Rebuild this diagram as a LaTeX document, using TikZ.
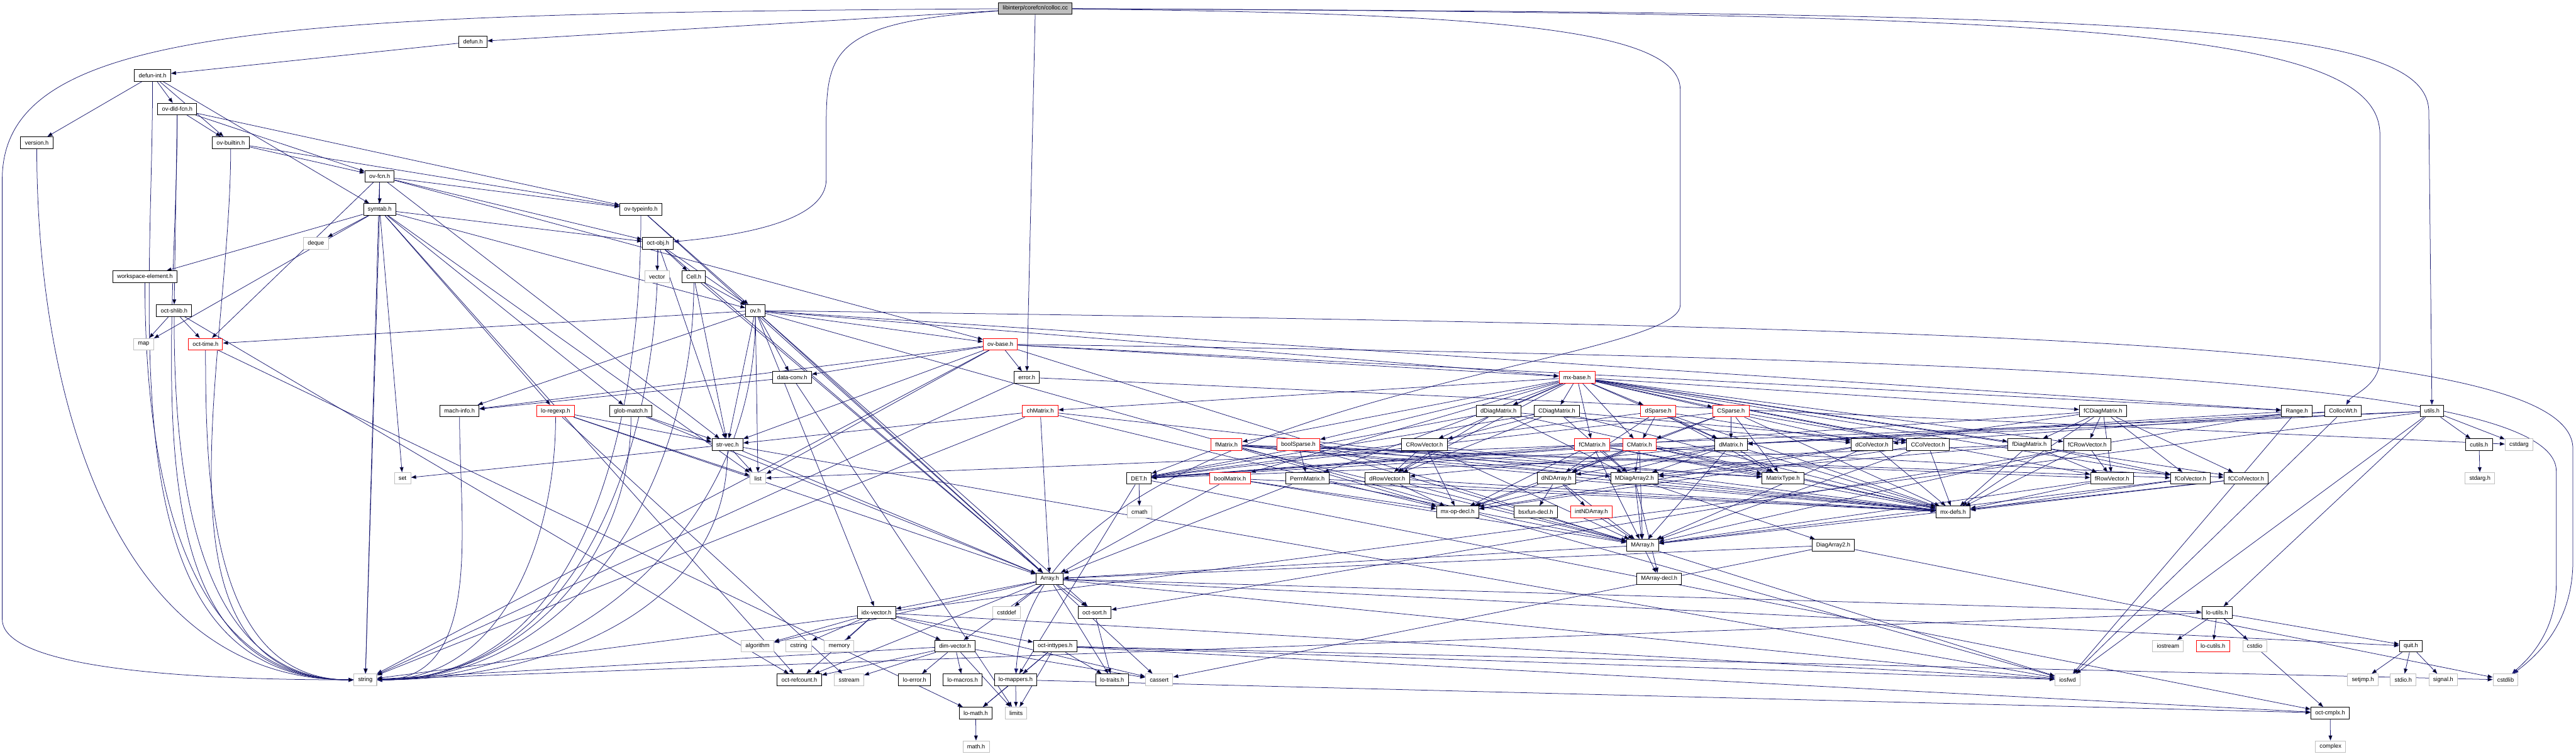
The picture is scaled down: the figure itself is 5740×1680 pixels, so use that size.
\documentclass[tikz,border=0pt]{standalone}
\usepackage{fontspec}
\setmainfont{Liberation Sans}
\usepackage{tikz}
\usetikzlibrary{arrows.meta,backgrounds}
\definecolor{depblue}{HTML}{191970}
\definecolor{sysgray}{HTML}{BFBFBF}
\tikzset{
  incbox/.style={draw=black,fill=white,line width=0.4pt,inner xsep=2.7pt,inner ysep=0pt,
    minimum height=0.26cm,font=\fontsize{3.7}{4.4}\selectfont},
  redinc/.style={incbox,draw=red},
  sysinc/.style={incbox,draw=sysgray},
  rootinc/.style={incbox,fill=sysgray},
  dep/.style={draw=depblue,line width=0.3pt,-{Triangle[length=3.2pt,width=2.4pt]}},
  fromleft/.style={out=-90,in=180},
  fromright/.style={out=-90,in=0}
}
\begin{document}
\begin{tikzpicture}[x=0.01cm,y=-0.01cm]
      \useasboundingbox (0,0) rectangle (5740,1680);
      \node[rootinc] (colloc) at (2307,19) {libinterp/corefcn/colloc.cc};
      \node[incbox] (defun) at (1054,93) {defun.h};
      \node[incbox] (defunint) at (340,168) {defun-int.h};
      \node[incbox] (ovdld) at (395,243) {ov-dld-fcn.h};
      \node[incbox] (version) at (82,318) {version.h};
      \node[incbox] (ovbuiltin) at (514,318) {ov-builtin.h};
      \node[incbox] (ovfcn) at (846,393) {ov-fcn.h};
      \node[incbox] (symtab) at (846,467) {symtab.h};
      \node[incbox] (ovtypeinfo) at (1428,467) {ov-typeinfo.h};
      \node[sysinc] (deque) at (704,542) {deque};
      \node[incbox] (octobj) at (1466,542) {oct-obj.h};
      \node[incbox] (wselem) at (323,617) {workspace-element.h};
      \node[sysinc] (vector) at (1464,617) {vector};
      \node[incbox] (cell) at (1546,617) {Cell.h};
      \node[incbox] (octshlib) at (388,692) {oct-shlib.h};
      \node[incbox] (ovh) at (1683,692) {ov.h};
      \node[sysinc] (map) at (320,767) {map};
      \node[redinc] (octtime) at (458,767) {oct-time.h};
      \node[redinc] (ovbase) at (2229,767) {ov-base.h};
      \node[incbox] (dataconv) at (1765,841) {data-conv.h};
      \node[incbox] (error) at (2288,841) {error.h};
      \node[redinc] (mxbase) at (3514,841) {mx-base.h};
      \node[incbox] (machinfo) at (1024,916) {mach-info.h};
      \node[redinc] (loregexp) at (1238,916) {lo-regexp.h};
      \node[incbox] (globmatch) at (1406,916) {glob-match.h};
      \node[redinc] (chmatrix) at (2318,916) {chMatrix.h};
      \node[incbox] (ddiagmatrix) at (3339,916) {dDiagMatrix.h};
      \node[incbox] (cdiagmatrix) at (3469,916) {CDiagMatrix.h};
      \node[redinc] (dsparse) at (3695,916) {dSparse.h};
      \node[redinc] (csparse) at (3857,916) {CSparse.h};
      \node[incbox] (fcdiagmatrix) at (4686,916) {fCDiagMatrix.h};
      \node[incbox] (range) at (5118,916) {Range.h};
      \node[incbox] (collocwt) at (5221,916) {CollocWt.h};
      \node[incbox] (utils) at (5419,916) {utils.h};
      \node[incbox] (strvec) at (1621,991) {str-vec.h};
      \node[redinc] (fmatrix) at (2733,991) {fMatrix.h};
      \node[redinc] (boolsparse) at (2893,991) {boolSparse.h};
      \node[incbox] (crowvector) at (3174,991) {CRowVector.h};
      \node[redinc] (fcmatrix) at (3548,991) {fCMatrix.h};
      \node[redinc] (cmatrix) at (3653,991) {CMatrix.h};
      \node[incbox] (dmatrix) at (3857,991) {dMatrix.h};
      \node[incbox] (dcolvector) at (4171,991) {dColVector.h};
      \node[incbox] (ccolvector) at (4296,991) {CColVector.h};
      \node[incbox] (fdiagmatrix) at (4522,991) {fDiagMatrix.h};
      \node[incbox] (fcrowvector) at (4651,991) {fCRowVector.h};
      \node[incbox] (cutils) at (5524,991) {cutils.h};
      \node[sysinc] (cstdarg) at (5613,991) {cstdarg};
      \node[sysinc] (set) at (897,1066) {set};
      \node[sysinc] (list) at (1689,1066) {list};
      \node[incbox] (det) at (2538,1066) {DET.h};
      \node[redinc] (boolmatrix) at (2741,1066) {boolMatrix.h};
      \node[incbox] (permmatrix) at (2913,1066) {PermMatrix.h};
      \node[incbox] (drowvector) at (3091,1066) {dRowVector.h};
      \node[incbox] (dndarray) at (3468,1066) {dNDArray.h};
      \node[incbox] (mdiagarray) at (3642,1066) {MDiagArray2.h};
      \node[incbox] (matrixtype) at (3973,1066) {MatrixType.h};
      \node[incbox] (frowvector) at (4706,1066) {fRowVector.h};
      \node[incbox] (fcolvector) at (4881,1066) {fColVector.h};
      \node[incbox] (fccolvector) at (5005,1066) {fCColVector.h};
      \node[sysinc] (stdargh) at (5526,1066) {stdarg.h};
      \node[sysinc] (cmath) at (2539,1141) {cmath};
      \node[incbox] (mxopdecl) at (3248,1141) {mx-op-decl.h};
      \node[incbox] (bsxfundecl) at (3422,1141) {bsxfun-decl.h};
      \node[redinc] (intndarray) at (3546,1141) {intNDArray.h};
      \node[incbox] (mxdefs) at (4352,1141) {mx-defs.h};
      \node[incbox] (marray) at (3660,1215) {MArray.h};
      \node[incbox] (diagarray) at (4085,1215) {DiagArray2.h};
      \node[incbox] (array) at (2339,1290) {Array.h};
      \node[incbox] (marraydecl) at (3697,1290) {MArray-decl.h};
      \node[incbox] (idxvector) at (1953,1365) {idx-vector.h};
      \node[sysinc] (cstddef) at (2243,1365) {cstddef};
      \node[incbox] (octsort) at (2439,1365) {oct-sort.h};
      \node[incbox] (loutils) at (4940,1365) {lo-utils.h};
      \node[sysinc] (algorithm) at (1688,1440) {algorithm};
      \node[sysinc] (cstring) at (1780,1440) {cstring};
      \node[sysinc] (memory) at (1870,1440) {memory};
      \node[incbox] (dimvector) at (2128,1440) {dim-vector.h};
      \node[incbox] (octinttypes) at (2351,1440) {oct-inttypes.h};
      \node[sysinc] (iostream) at (4831,1440) {iostream};
      \node[redinc] (locutils) at (4931,1440) {lo-cutils.h};
      \node[sysinc] (cstdio) at (5024,1440) {cstdio};
      \node[incbox] (quit) at (5372,1440) {quit.h};
      \node[sysinc] (string) at (814,1515) {string};
      \node[incbox] (octrefcount) at (1781,1515) {oct-refcount.h};
      \node[sysinc] (sstream) at (1892,1515) {sstream};
      \node[incbox] (loerror) at (2038,1515) {lo-error.h};
      \node[incbox] (lomacros) at (2145,1515) {lo-macros.h};
      \node[incbox] (lomappers) at (2263,1515) {lo-mappers.h};
      \node[incbox] (lotraits) at (2478,1515) {lo-traits.h};
      \node[sysinc] (cassert) at (2583,1515) {cassert};
      \node[sysinc] (iosfwd) at (4607,1515) {iosfwd};
      \node[sysinc] (setjmp) at (5265,1515) {setjmp.h};
      \node[sysinc] (stdioh) at (5355,1515) {stdio.h};
      \node[sysinc] (signal) at (5444,1515) {signal.h};
      \node[sysinc] (cstdlib) at (5583,1515) {cstdlib};
      \node[incbox] (lomath) at (2174,1589) {lo-math.h};
      \node[sysinc] (limits) at (2264,1589) {limits};
      \node[incbox] (octcmplx) at (5192,1589) {oct-cmplx.h};
      \node[sysinc] (mathh) at (2175,1664) {math.h};
      \node[sysinc] (complex) at (5193,1664) {complex};
      \begin{pgfonlayer}{background}
      \draw[dep] (colloc) edge (defun) edge (error);
      \draw[dep] (colloc) .. controls (600,30) and (5,60) .. (5,400) -- (5,1380) .. controls (5,1500) and (500,1515) .. (string);
      \draw[dep] (colloc) .. controls (1841,50) and (1841,120) .. (1841,300) -- (1841,400) .. controls (1841,480) and (1700,520) .. (octobj);
      \draw[dep] (colloc) .. controls (3300,30) and (3744,60) .. (3744,200) -- (3744,680) .. controls (3744,820) and (2300,880) .. (lomappers);
      \draw[dep] (colloc) .. controls (4600,30) and (5303,60) .. (5303,300) -- (5303,800) .. controls (5303,860) and (5240,880) .. (collocwt);
      \draw[dep] (colloc) .. controls (4800,30) and (5412,50) .. (5412,250) -- (utils);
      \draw[dep] (defun) edge (defunint);
      \draw[dep] (defunint) edge (version) edge[fromleft] (string) edge (ovdld) edge (ovbuiltin) edge (symtab);
      \draw[dep] (ovdld) edge[fromleft] (string) edge (octshlib) edge (ovfcn) edge (ovbuiltin) edge (ovtypeinfo);
      \draw[dep] (ovbuiltin) edge[fromleft] (string) edge (ovfcn) edge (ovtypeinfo);
      \draw[dep] (version) edge[fromleft] (string);
      \draw[dep] (ovfcn) edge (string) edge (symtab) edge (ovtypeinfo) edge (octtime) edge (strvec) edge (octobj) edge (ovbase);
      \draw[dep] (symtab) edge (deque) edge (list) edge (map) edge (set) edge (string) edge (globmatch) edge (loregexp) edge (wselem) edge (ovh) edge (octobj) edge (octrefcount);
      \draw[dep] (ovtypeinfo) edge[fromright] (string) edge (array) edge (ovh);
      \draw[dep] (octobj) edge[fromright] (string) edge (array) edge (strvec) edge (ovh) edge (cell) edge (vector);
      \draw[dep] (wselem) edge[fromleft] (string);
      \draw[dep] (cell) edge (ovh) edge (strvec) edge (array) edge[fromright] (string);
      \draw[dep] (octshlib) edge[fromleft] (string) edge (map) edge (octtime) edge (octrefcount);
      \draw[dep] (ovh) edge (ovbase) edge (dataconv) edge (strvec) edge (list) edge[fromright] (string) edge (octtime) edge (machinfo) edge (mxbase) edge (range) edge (idxvector) edge (array) edge (iosfwd) edge (octsort);
      \draw[dep] (ovh) .. controls (4500,730) and (5733,760) .. (5733,1000) -- (5733,1250) .. controls (5733,1400) and (5640,1470) .. (cstdlib);
      \draw[dep] (octtime) edge[fromleft] (string) edge (lomath);
      \draw[dep] (ovbase) edge (dataconv) edge (error) edge (strvec) edge (list) edge (string) edge (mxbase) edge (range) edge (iosfwd) edge (machinfo);
      \draw[dep] (ovbase) .. controls (4600,800) and (5696,850) .. (5696,1050) -- (5696,1300) .. controls (5696,1420) and (5620,1480) .. (cstdlib);
      \draw[dep] (dataconv) edge (machinfo) edge (limits);
      \draw[dep] (error) edge (string) edge (cstdarg);
      \draw[dep] (mxbase) edge (chmatrix) edge (boolmatrix) edge (boolsparse) edge (fmatrix) edge (permmatrix) edge (drowvector) edge (crowvector) edge (ddiagmatrix) edge (cdiagmatrix) edge (fcmatrix) edge (cmatrix) edge (dsparse) edge (csparse) edge (dmatrix) edge (dcolvector) edge (ccolvector) edge (fcdiagmatrix) edge (fdiagmatrix) edge (fcrowvector) edge (frowvector) edge (fcolvector) edge (fccolvector);
      \draw[dep] (machinfo) edge[fromright] (string);
      \draw[dep] (loregexp) edge (list) edge (sstream) edge[fromright] (string) edge (array) edge (strvec);
      \draw[dep] (globmatch) edge[fromright] (string) edge (array) edge (strvec);
      \draw[dep] (chmatrix) edge (string) edge (strvec) edge (array) edge (mxdefs) edge (mxopdecl);
      \draw[dep] (ddiagmatrix) edge (mdiagarray) edge (drowvector) edge (dcolvector) edge (det) edge (mxdefs);
      \draw[dep] (cdiagmatrix) edge (crowvector) edge (drowvector) edge (mdiagarray) edge (ccolvector) edge (det) edge (mxdefs);
      \draw[dep] (dsparse) edge (dmatrix) edge (cmatrix) edge (dndarray) edge (matrixtype) edge (det) edge (dcolvector) edge (mxdefs);
      \draw[dep] (csparse) edge (dmatrix) edge (cmatrix) edge (matrixtype) edge (ccolvector) edge (det) edge (mxdefs) edge (dndarray);
      \draw[dep] (fcdiagmatrix) edge (fcrowvector) edge (frowvector) edge (fccolvector) edge (fcolvector) edge (fdiagmatrix) edge (mdiagarray) edge (det) edge (mxdefs);
      \draw[dep] (range) edge (dmatrix) edge (octsort) edge (iosfwd);
      \draw[dep] (collocwt) edge (dmatrix) edge (dcolvector) edge (iosfwd);
      \draw[dep] (utils) edge (cutils) edge (cstdarg) edge (string) edge (list) edge (iosfwd) edge (loutils) edge (dmatrix);
      \draw[dep] (strvec) edge[fromright] (string) edge (list) edge (array) edge (iosfwd) edge (set);
      \draw[dep] (fmatrix) edge (det) edge (marray) edge (mdiagarray) edge (matrixtype) edge (mxdefs) edge (mxopdecl) edge (fcolvector) edge (frowvector);
      \draw[dep] (boolsparse) edge (permmatrix) edge (marray) edge (mxdefs) edge (matrixtype);
      \draw[dep] (crowvector) edge (drowvector) edge (marray) edge (mxdefs) edge (mxopdecl);
      \draw[dep] (fcmatrix) edge (mdiagarray) edge (matrixtype) edge (det) edge (marray) edge (mxdefs) edge (mxopdecl) edge (fccolvector);
      \draw[dep] (cmatrix) edge (mdiagarray) edge (matrixtype) edge (det) edge (marray) edge (mxdefs) edge (mxopdecl) edge (dndarray);
      \draw[dep] (dmatrix) edge (matrixtype) edge (dndarray) edge (mdiagarray) edge (det) edge (marray) edge (mxdefs) edge (mxopdecl) edge (drowvector);
      \draw[dep] (dcolvector) edge (marray) edge (mxdefs) edge (mxopdecl);
      \draw[dep] (ccolvector) edge (marray) edge (mxdefs) edge (mxopdecl);
      \draw[dep] (fdiagmatrix) edge (mdiagarray) edge (frowvector) edge (fcolvector) edge (det) edge (mxdefs);
      \draw[dep] (fcrowvector) edge (frowvector) edge (marray) edge (mxdefs);
      \draw[dep] (cutils) edge (stdargh);
      \draw[dep] (det) edge (cmath) edge (lomappers) edge (octcmplx);
      \draw[dep] (boolmatrix) edge (mxdefs) edge (mxopdecl) edge (marray) edge (array);
      \draw[dep] (permmatrix) edge (array) edge (marray) edge (mxdefs);
      \draw[dep] (drowvector) edge (marray) edge (mxdefs) edge (mxopdecl);
      \draw[dep] (dndarray) edge (marray) edge (intndarray) edge (mxdefs) edge (mxopdecl) edge (bsxfundecl);
      \draw[dep] (mdiagarray) edge (diagarray) edge (marray) edge (marraydecl);
      \draw[dep] (frowvector) edge (marray) edge (mxdefs);
      \draw[dep] (fcolvector) edge (marray) edge (mxdefs);
      \draw[dep] (fccolvector) edge (marray) edge (mxdefs);
      \draw[dep] (intndarray) edge (marray);
      \draw[dep] (marray) edge (array) edge (marraydecl);
      \draw[dep] (diagarray) edge (array) edge (cassert) edge (cstdlib);
      \draw[dep] (array) edge (algorithm) edge (idxvector) edge (cstddef) edge (octsort) edge (dimvector) edge (octrefcount) edge (lotraits) edge (cassert) edge (loutils) edge (iosfwd) edge (quit);
      \draw[dep] (idxvector) edge (algorithm) edge (cstring) edge (memory) edge (octrefcount) edge (dimvector) edge (octinttypes) edge (cassert) edge (iosfwd);
      \draw[dep] (octsort) edge (lotraits);
      \draw[dep] (loutils) edge (iostream) edge (locutils) edge (cstdio) edge (quit) edge (octcmplx) edge (string);
      \draw[dep] (dimvector) edge (string) edge (octrefcount) edge (sstream) edge (loerror) edge (lomacros) edge (cassert) edge (limits);
      \draw[dep] (octinttypes) edge (lomappers) edge (lomath) edge (limits) edge (lotraits) edge (octcmplx) edge (iosfwd) edge (cstdlib);
      \draw[dep] (quit) edge (setjmp) edge (stdioh) edge (signal);
      \draw[dep] (lomappers) edge (lomath) edge (limits) edge (octcmplx);
      \draw[dep] (lomath) edge (mathh);
      \draw[dep] (octcmplx) edge (complex);
      \end{pgfonlayer}
    \end{tikzpicture}
\end{document}
